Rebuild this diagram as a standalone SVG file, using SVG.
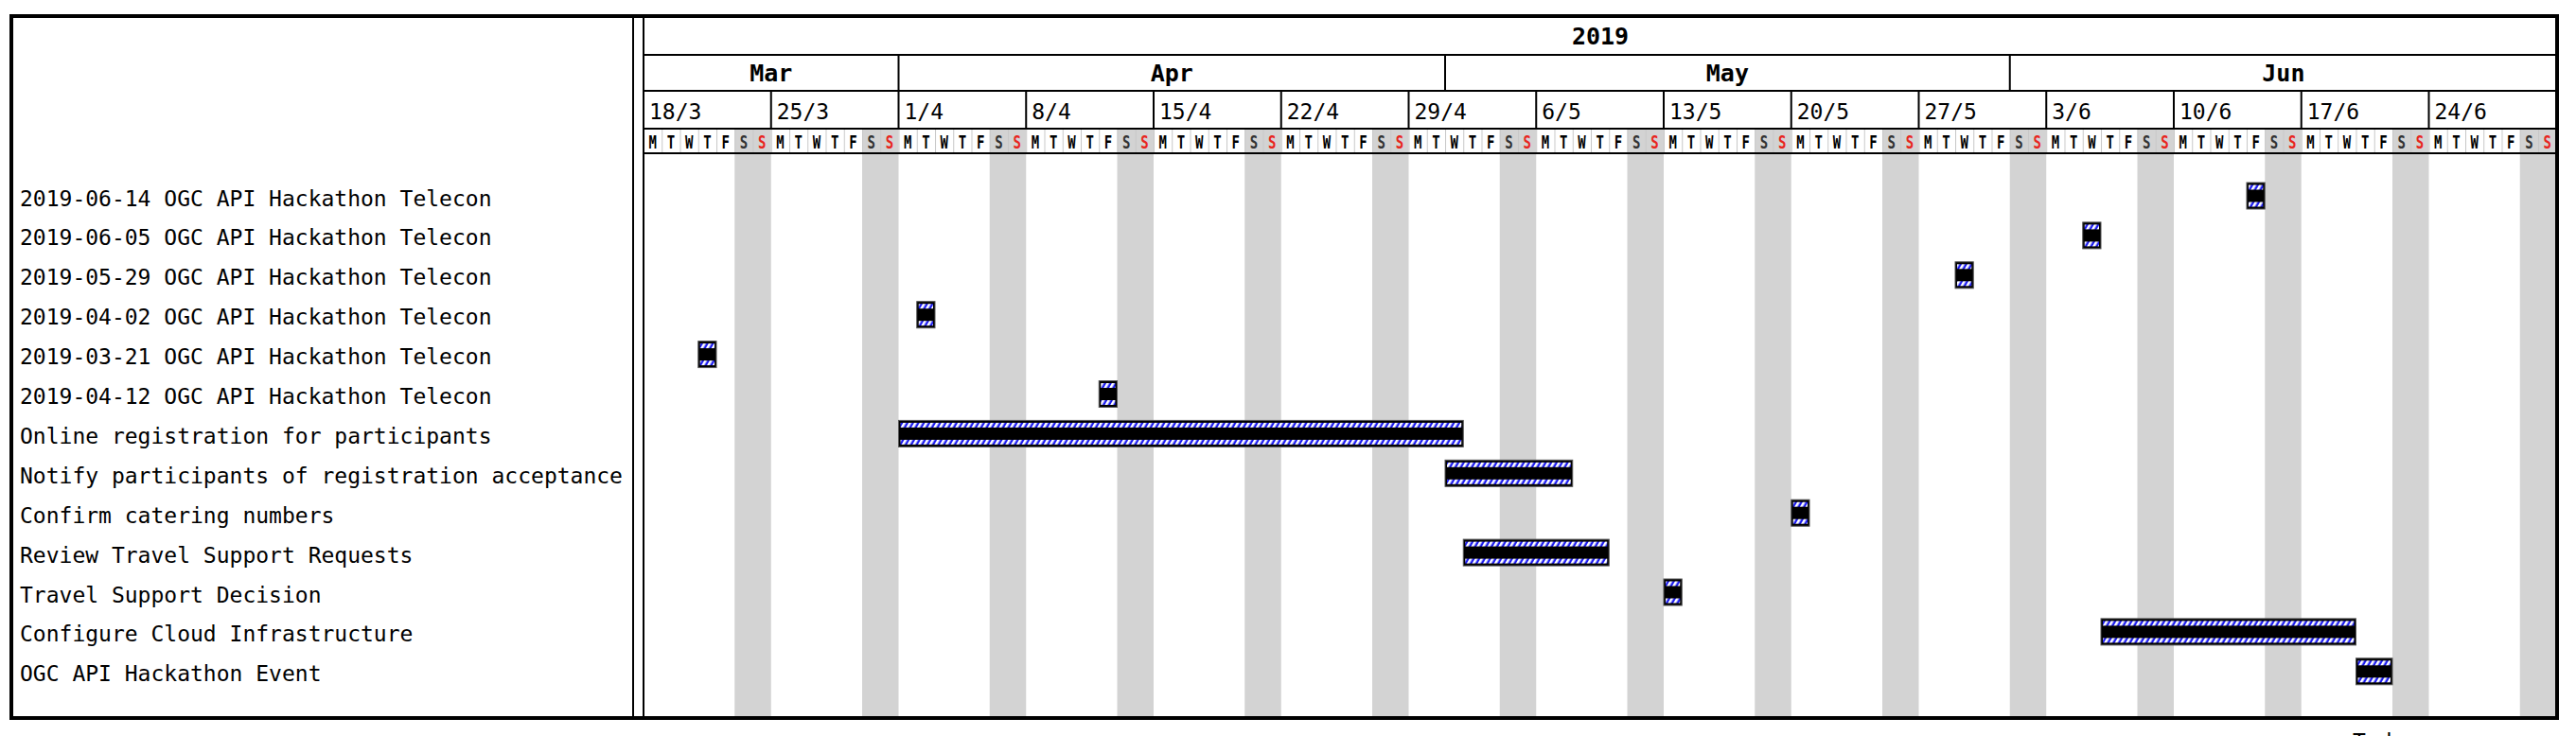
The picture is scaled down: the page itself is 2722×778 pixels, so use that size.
<svg xmlns="http://www.w3.org/2000/svg" width="2722" height="778" viewBox="0 0 2722 778">
<style>
.lbl{font-family:"DejaVu Sans Mono","Liberation Mono",monospace;font-size:23px;fill:#000}
.hd{font-family:"DejaVu Sans Mono","Liberation Mono",monospace;font-size:25px;font-weight:bold;fill:#000;text-anchor:middle}
.dy{font-family:"DejaVu Sans Mono","Liberation Mono",monospace;font-size:20px;font-weight:bold;text-anchor:middle;fill:#000}
.sat{fill:#333}
.sun{fill:#e8261f}
.we{fill:#d3d3d3}
.ln{stroke:#000;stroke-width:2;fill:none}
.frame{stroke:#000;stroke-width:4;fill:none}
.bar{fill:#000;stroke:#555;stroke-width:1}
.st{fill:url(#hz)}
</style>
<defs>
<pattern id="hz" width="5" height="10" patternUnits="userSpaceOnUse" patternTransform="rotate(30)">
<rect width="5" height="10" fill="#1c1cf0"/><rect width="2.6" height="10" fill="#fff"/>
</pattern>
<pattern id="dsep" x="680" y="0" width="19.25" height="30" patternUnits="userSpaceOnUse">
<rect width="1" height="30" fill="#c8c8c8"/>
</pattern>
</defs>
<rect width="2722" height="778" fill="#fff"/>
<g id="weekends">
<rect class="we" x="776.25" y="136" width="38.5" height="623"/>
<rect class="we" x="911" y="136" width="38.5" height="623"/>
<rect class="we" x="1045.75" y="136" width="38.5" height="623"/>
<rect class="we" x="1180.5" y="136" width="38.5" height="623"/>
<rect class="we" x="1315.25" y="136" width="38.5" height="623"/>
<rect class="we" x="1450" y="136" width="38.5" height="623"/>
<rect class="we" x="1584.75" y="136" width="38.5" height="623"/>
<rect class="we" x="1719.5" y="136" width="38.5" height="623"/>
<rect class="we" x="1854.25" y="136" width="38.5" height="623"/>
<rect class="we" x="1989" y="136" width="38.5" height="623"/>
<rect class="we" x="2123.75" y="136" width="38.5" height="623"/>
<rect class="we" x="2258.5" y="136" width="38.5" height="623"/>
<rect class="we" x="2393.25" y="136" width="38.5" height="623"/>
<rect class="we" x="2528" y="136" width="38.5" height="623"/>
<rect class="we" x="2662.75" y="136" width="38.5" height="623"/>
</g>
<rect id="day-separators" x="680" y="136" width="2021.25" height="26" fill="url(#dsep)"/>
<g id="grid">
<rect class="frame" x="12" y="17" width="2690" height="742"/>
<line class="ln" x1="669" y1="17" x2="669" y2="759"/>
<line class="ln" x1="680" y1="17" x2="680" y2="759"/>
<line class="ln" x1="680" y1="58" x2="2702" y2="58"/>
<line class="ln" x1="680" y1="96" x2="2702" y2="96"/>
<line class="ln" x1="680" y1="136" x2="2702" y2="136"/>
<line class="ln" x1="680" y1="162" x2="2702" y2="162"/>
<line class="ln" x1="949.5" y1="58" x2="949.5" y2="96"/>
<line class="ln" x1="1527" y1="58" x2="1527" y2="96"/>
<line class="ln" x1="2123.75" y1="58" x2="2123.75" y2="96"/>
<path class="ln" d="M814.75 96V136M949.5 96V136M1084.25 96V136M1219 96V136M1353.75 96V136M1488.5 96V136M1623.25 96V136M1758 96V136M1892.75 96V136M2027.5 96V136M2162.25 96V136M2297 96V136M2431.75 96V136M2566.5 96V136"/>
</g>
<g id="header">
<text class="hd" x="1691" y="47">2019</text>
<text class="hd" x="814.75" y="86">Mar</text>
<text class="hd" x="1238.25" y="86">Apr</text>
<text class="hd" x="1825.4" y="86">May</text>
<text class="hd" x="2412.9" y="86">Jun</text>
<text class="lbl" x="686" y="126">18/3</text>
<text class="lbl" x="820.75" y="126">25/3</text>
<text class="lbl" x="955.5" y="126">1/4</text>
<text class="lbl" x="1090.25" y="126">8/4</text>
<text class="lbl" x="1225" y="126">15/4</text>
<text class="lbl" x="1359.75" y="126">22/4</text>
<text class="lbl" x="1494.5" y="126">29/4</text>
<text class="lbl" x="1629.25" y="126">6/5</text>
<text class="lbl" x="1764" y="126">13/5</text>
<text class="lbl" x="1898.75" y="126">20/5</text>
<text class="lbl" x="2033.5" y="126">27/5</text>
<text class="lbl" x="2168.25" y="126">3/6</text>
<text class="lbl" x="2303" y="126">10/6</text>
<text class="lbl" x="2437.75" y="126">17/6</text>
<text class="lbl" x="2572.5" y="126">24/6</text>
<g id="days" transform="translate(689.625,157) scale(0.7,1)">
<text class="dy" x="0 27.5 55 82.5 110 137.5">MTWTF<tspan class="sat">S</tspan></text><text class="dy sun" x="165">S</text>
<text class="dy" x="192.5 220 247.5 275 302.5 330">MTWTF<tspan class="sat">S</tspan></text><text class="dy sun" x="357.5">S</text>
<text class="dy" x="385 412.5 440 467.5 495 522.5">MTWTF<tspan class="sat">S</tspan></text><text class="dy sun" x="550">S</text>
<text class="dy" x="577.5 605 632.5 660 687.5 715">MTWTF<tspan class="sat">S</tspan></text><text class="dy sun" x="742.5">S</text>
<text class="dy" x="770 797.5 825 852.5 880 907.5">MTWTF<tspan class="sat">S</tspan></text><text class="dy sun" x="935">S</text>
<text class="dy" x="962.5 990 1017.5 1045 1072.5 1100">MTWTF<tspan class="sat">S</tspan></text><text class="dy sun" x="1127.5">S</text>
<text class="dy" x="1155 1182.5 1210 1237.5 1265 1292.5">MTWTF<tspan class="sat">S</tspan></text><text class="dy sun" x="1320">S</text>
<text class="dy" x="1347.5 1375 1402.5 1430 1457.5 1485">MTWTF<tspan class="sat">S</tspan></text><text class="dy sun" x="1512.5">S</text>
<text class="dy" x="1540 1567.5 1595 1622.5 1650 1677.5">MTWTF<tspan class="sat">S</tspan></text><text class="dy sun" x="1705">S</text>
<text class="dy" x="1732.5 1760 1787.5 1815 1842.5 1870">MTWTF<tspan class="sat">S</tspan></text><text class="dy sun" x="1897.5">S</text>
<text class="dy" x="1925 1952.5 1980 2007.5 2035 2062.5">MTWTF<tspan class="sat">S</tspan></text><text class="dy sun" x="2090">S</text>
<text class="dy" x="2117.5 2145 2172.5 2200 2227.5 2255">MTWTF<tspan class="sat">S</tspan></text><text class="dy sun" x="2282.5">S</text>
<text class="dy" x="2310 2337.5 2365 2392.5 2420 2447.5">MTWTF<tspan class="sat">S</tspan></text><text class="dy sun" x="2475">S</text>
<text class="dy" x="2502.5 2530 2557.5 2585 2612.5 2640">MTWTF<tspan class="sat">S</tspan></text><text class="dy sun" x="2667.5">S</text>
<text class="dy" x="2695 2722.5 2750 2777.5 2805 2832.5">MTWTF<tspan class="sat">S</tspan></text><text class="dy sun" x="2860">S</text>
</g>
</g>
<g id="task-0"><text class="lbl" x="21" y="217.5">2019-06-14 OGC API Hackathon Telecon</text><rect class="bar" x="2374" y="193" width="19.25" height="28"/><rect class="st" x="2376" y="195.5" width="15.25" height="5"/><rect class="st" x="2376" y="213.5" width="15.25" height="5"/></g>
<g id="task-1"><text class="lbl" x="21" y="259.4">2019-06-05 OGC API Hackathon Telecon</text><rect class="bar" x="2200.75" y="234.9" width="19.25" height="28"/><rect class="st" x="2202.75" y="237.4" width="15.25" height="5"/><rect class="st" x="2202.75" y="255.4" width="15.25" height="5"/></g>
<g id="task-2"><text class="lbl" x="21" y="301.3">2019-05-29 OGC API Hackathon Telecon</text><rect class="bar" x="2066" y="276.8" width="19.25" height="28"/><rect class="st" x="2068" y="279.3" width="15.25" height="5"/><rect class="st" x="2068" y="297.3" width="15.25" height="5"/></g>
<g id="task-3"><text class="lbl" x="21" y="343.2">2019-04-02 OGC API Hackathon Telecon</text><rect class="bar" x="968.75" y="318.7" width="19.25" height="28"/><rect class="st" x="970.75" y="321.2" width="15.25" height="5"/><rect class="st" x="970.75" y="339.2" width="15.25" height="5"/></g>
<g id="task-4"><text class="lbl" x="21" y="385.1">2019-03-21 OGC API Hackathon Telecon</text><rect class="bar" x="737.75" y="360.6" width="19.25" height="28"/><rect class="st" x="739.75" y="363.1" width="15.25" height="5"/><rect class="st" x="739.75" y="381.1" width="15.25" height="5"/></g>
<g id="task-5"><text class="lbl" x="21" y="427">2019-04-12 OGC API Hackathon Telecon</text><rect class="bar" x="1161.25" y="402.5" width="19.25" height="28"/><rect class="st" x="1163.25" y="405" width="15.25" height="5"/><rect class="st" x="1163.25" y="423" width="15.25" height="5"/></g>
<g id="task-6"><text class="lbl" x="21" y="468.9">Online registration for participants</text><rect class="bar" x="949.5" y="444.4" width="596.75" height="28"/><rect class="st" x="951.5" y="446.9" width="592.75" height="5"/><rect class="st" x="951.5" y="464.9" width="592.75" height="5"/></g>
<g id="task-7"><text class="lbl" x="21" y="510.8">Notify participants of registration acceptance</text><rect class="bar" x="1527" y="486.3" width="134.75" height="28"/><rect class="st" x="1529" y="488.8" width="130.75" height="5"/><rect class="st" x="1529" y="506.8" width="130.75" height="5"/></g>
<g id="task-8"><text class="lbl" x="21" y="552.7">Confirm catering numbers</text><rect class="bar" x="1892.75" y="528.2" width="19.25" height="28"/><rect class="st" x="1894.75" y="530.7" width="15.25" height="5"/><rect class="st" x="1894.75" y="548.7" width="15.25" height="5"/></g>
<g id="task-9"><text class="lbl" x="21" y="594.6">Review Travel Support Requests</text><rect class="bar" x="1546.25" y="570.1" width="154" height="28"/><rect class="st" x="1548.25" y="572.6" width="150" height="5"/><rect class="st" x="1548.25" y="590.6" width="150" height="5"/></g>
<g id="task-10"><text class="lbl" x="21" y="636.5">Travel Support Decision</text><rect class="bar" x="1758" y="612" width="19.25" height="28"/><rect class="st" x="1760" y="614.5" width="15.25" height="5"/><rect class="st" x="1760" y="632.5" width="15.25" height="5"/></g>
<g id="task-11"><text class="lbl" x="21" y="678.4">Configure Cloud Infrastructure</text><rect class="bar" x="2220" y="653.9" width="269.5" height="28"/><rect class="st" x="2222" y="656.4" width="265.5" height="5"/><rect class="st" x="2222" y="674.4" width="265.5" height="5"/></g>
<g id="task-12"><text class="lbl" x="21" y="720.3">OGC API Hackathon Event</text><rect class="bar" x="2489.5" y="695.8" width="38.5" height="28"/><rect class="st" x="2491.5" y="698.3" width="34.5" height="5"/><rect class="st" x="2491.5" y="716.3" width="34.5" height="5"/></g>
<text id="today" class="lbl" x="2486" y="792">Today</text>
</svg>
